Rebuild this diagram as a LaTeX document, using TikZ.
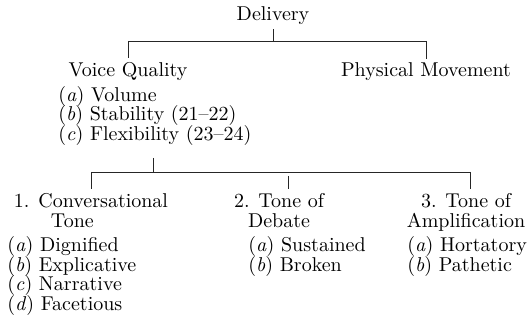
\documentclass[tikz,border=0pt]{standalone}
\usepackage{tikz}
\usetikzlibrary{
    positioning,
    calc
}
\lineskiplimit=-\maxdimen

\begin{document}
\begin{tikzpicture}[
            x=0.5pt, y=-0.5pt,
            font=\fontsize{10}{9.8}\selectfont,
            line width=0.4pt,
            head/.style={inner sep=0pt, align=center},
            sublist/.style={inner sep=0pt, align=left, anchor=north west},
            tick/.style={draw=black!85, shorten >=2pt},
        ]
        \useasboundingbox (0,0) rectangle (530,320);

        % ===== LEVEL 1: Delivery =====
        \node[head] (del) at (273,16) {Delivery};
        \coordinate (j1) at (273,41);

        \node[head] (vq) at (128,72) {Voice Quality};
        \node[head] (pm) at (426,72) {Physical Movement};

        \draw[tick, shorten <=2pt, shorten >=0pt] (del) -- (j1);
        \draw[black!85] (vq.north |- j1) -- (pm.north |- j1);
        \draw[tick] (vq.north |- j1) -- (vq.north);
        \draw[tick] (pm.north |- j1) -- (pm.north);

        % ===== LEVEL 2: Voice Quality =====
        \node[sublist] (vql) at (58,86) {(\textit{a}) Volume\\(\textit{b}) Stability (21--22)\\(\textit{c}) Flexibility (23--24)};
        \coordinate (j2) at (153,172);

        \node[head, anchor=north, align=left] (ct) at (91,193) {1. Conversational\\\hspace*{1.85em}Tone};
        \node[head, anchor=north] (td) at (279,193) {2. Tone of\\Debate};
        \node[head, anchor=north] (ta) at (466,193) {3. Tone of\\Amplification};

        \draw[tick, shorten <=6pt, shorten >=0pt] (vql.south -| j2) -- (j2);
        \draw[black!85] (ct.north |- j2) -- ($(ta.north |- j2)+(4,0)$);
        \draw[tick] (ct.north |- j2) -- (ct.north);
        \draw[tick, shorten <=2pt] ($(td.north |- j2)+(9,0)$) -- ($(td.north)+(9,0)$);
        \draw[tick] ($(ta.north |- j2)+(4,0)$) -- ($(ta.north)+(4,0)$);

        % ===== LEVEL 3: tones =====
        \node[sublist] (ctl) at (7,236) {(\textit{a}) Dignified\\(\textit{b}) Explicative\\(\textit{c}) Narrative\\(\textit{d}) Facetious};
        \node[sublist] (tdl) at (248,236) {(\textit{a}) Sustained\\(\textit{b}) Broken};
        \node[sublist] (tal) at (407,236) {(\textit{a}) Hortatory\\(\textit{b}) Pathetic};
        \end{tikzpicture}
\end{document}
